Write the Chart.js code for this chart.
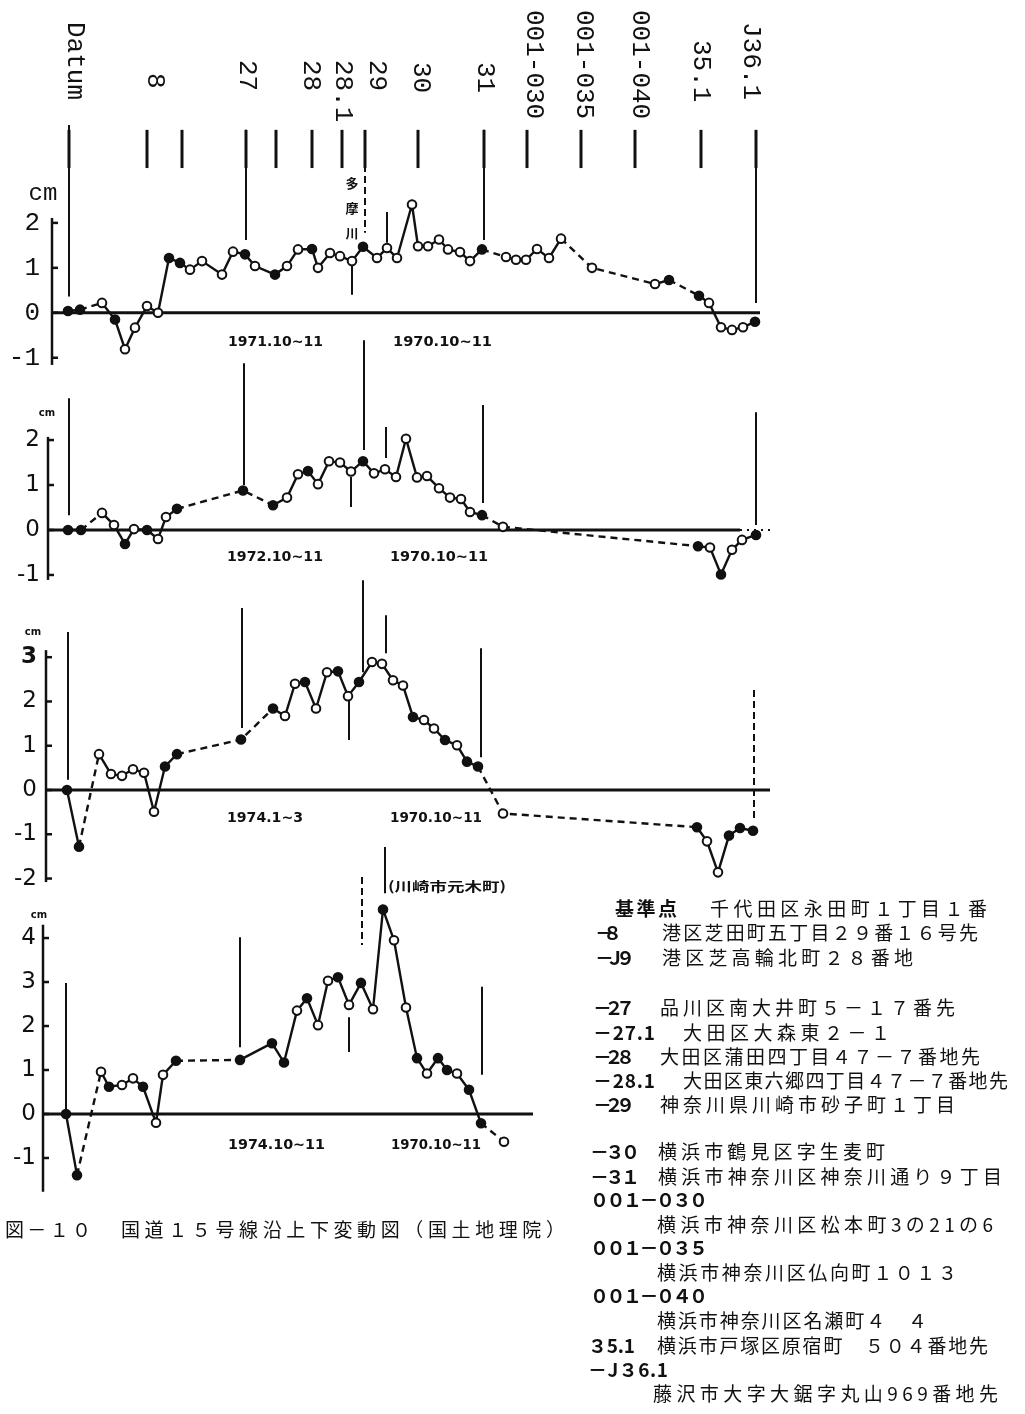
<!DOCTYPE html>
<html lang="ja">
<head>
<meta charset="utf-8">
<title>図－１０ 国道１５号線沿上下変動図</title>
<script src="https://cdn.jsdelivr.net/npm/chart.js@4.4.1/dist/chart.umd.min.js"></script>
<style>
  html, body { margin: 0; padding: 0; background: #fff; }
  #fig { position: relative; width: 1025px; height: 1414px; overflow: hidden; }
  #fig canvas { position: absolute; left: 0; top: 0; }
  .jp { position: absolute; white-space: nowrap; font-family: "Noto Sans CJK JP", sans-serif;
        font-size: 19px; line-height: 24px; height: 24px; color: #111; }
  .jp.code { font-weight: 700; }
</style>
</head>
<body>
<div id="fig">
  <canvas id="p0" width="1025" height="1414"></canvas>
  <canvas id="p1" width="1025" height="1414"></canvas>
  <canvas id="p2" width="1025" height="1414"></canvas>
  <canvas id="p3" width="1025" height="1414"></canvas>
</div>
<script>
// Benchmarks along route 15 (chainage from Datum, scaled units)
const stationNames = ['Datum', '8', 'J9', '27', '27.1', '28', '28.1', '29', '30', '31', '001-030', '001-035', '001-040', '35.1', 'J36.1'];
const stationPos = [0, 7.8, 11.3, 17.7, 20.7, 24.3, 27.3, 29.6, 34.9, 41.5, 45.8, 51.2, 56.6, 63.2, 68.7];
const headerLabels = ['Datum', '8', '27', '28', '28.1', '29', '30', '31', '001-030', '001-035', '001-040', '35.1', 'J36.1'];
const headerLabelPos = [0.6, 8.6, 17.8, 24.2, 27.4, 30.8, 35.2, 41.6, 46.5, 51.5, 57.1, 63.2, 68.2];

// Panel 1: 1971.10~11 vs 1970.10~11 (cm)
const pos1 = [-0.1, 1.1, 3.3, 4.6, 5.6, 6.6, 7.8, 8.9, 10.0, 11.1, 12.1, 13.3, 15.3, 16.4, 17.6, 18.6,
  20.6, 21.8, 22.9, 24.3, 24.9, 26.1, 27.1, 28.3, 29.4, 30.8, 31.8, 32.8, 34.3, 34.9, 35.9, 37.0,
  37.9, 39.1, 40.1, 41.3, 43.7, 44.7, 45.7, 46.8, 48.0, 49.2, 52.3, 58.6, 60.0, 63.0, 64.0, 65.2, 66.3, 67.4, 68.6];
const val1 = [0.04, 0.07, 0.22, -0.15, -0.81, -0.33, 0.15, 0.0, 1.22, 1.11, 0.96, 1.15, 0.85, 1.36, 1.30, 1.04,
  0.85, 1.04, 1.41, 1.42, 1.00, 1.33, 1.26, 1.15, 1.47, 1.22, 1.44, 1.22, 2.41, 1.48, 1.48, 1.63,
  1.41, 1.35, 1.15, 1.41, 1.24, 1.18, 1.18, 1.42, 1.22, 1.65, 1.00, 0.64, 0.73, 0.38, 0.22, -0.32, -0.38, -0.32, -0.20];
const kind1 = [1,1,0,1,0,0,0,0, 1,1,0,0,0,0,1,0, 1,0,0,1,0,0,0,0, 1,0,0,0,0,0,0,0, 0,0,0,1, 0,0,0,0,0,0,0,0,1,1,0,0,0,0,1];
const dash1 = [1,1,0,0,0,0,0,0, 0,0,0,0,0,0,0,0, 0,0,0,0,0,0,0,0, 0,0,0,0,0,0,0,0, 0,0,0,1, 0,0,0,0,0,1,1,0,1,0,0,0,0,0];

// Panel 2: 1972.10~11 vs 1970.10~11
const pos2 = [-0.1, 1.2, 3.3, 4.5, 5.6, 6.5, 7.8, 8.9, 9.7, 10.8, 17.4, 20.4, 21.8, 22.9, 23.9, 24.9, 26.0, 27.1, 28.2, 29.4,
  30.5, 31.6, 32.7, 33.7, 34.8, 35.8, 37.0, 38.1, 39.2, 40.1, 41.3, 43.4, 62.9, 64.1, 65.2, 66.3, 67.3, 68.7];
const val2 = [0, 0, 0.38, 0.11, -0.31, 0.02, 0, -0.2, 0.29, 0.47, 0.88, 0.55, 0.72, 1.24, 1.31, 1.02, 1.53, 1.5, 1.3, 1.53,
  1.26, 1.35, 1.18, 2.03, 1.17, 1.2, 0.93, 0.72, 0.69, 0.4, 0.33, 0.07, -0.36, -0.39, -0.99, -0.44, -0.22, -0.11];
const kind2 = [1,1,0,0,1,0,1,0,0,1, 1,1,0,0,1,0,0,0,0,1, 0,0,0,0,0,0,0,0,0,0, 1,0, 1,0,1,0,0,1];
const dash2 = [0,1,0,0,0,0,0,0,0,1, 1,0,0,0,0,0,0,0,0,0, 0,0,0,0,0,0,0,0,0,0, 1,1, 0,0,0,0,0];

// Panel 3: 1974.1~3 vs 1970.10~11
const pos3 = [-0.2, 1.0, 3.0, 4.2, 5.3, 6.4, 7.5, 8.5, 9.6, 10.8, 17.2, 20.4, 21.6, 22.6, 23.6, 24.7, 25.8, 26.9, 27.9, 29.0,
  30.3, 31.3, 32.4, 33.4, 34.4, 35.5, 36.5, 37.6, 38.8, 39.8, 40.9, 43.4, 62.8, 63.8, 64.9, 66.0, 67.1, 68.4];
const val3 = [0, -1.28, 0.81, 0.36, 0.32, 0.47, 0.39, -0.49, 0.53, 0.81, 1.14, 1.84, 1.67, 2.4, 2.44, 1.84, 2.66, 2.68, 2.12, 2.44,
  2.89, 2.85, 2.48, 2.36, 1.65, 1.58, 1.39, 1.13, 1.01, 0.64, 0.53, -0.53, -0.84, -1.16, -1.86, -1.03, -0.86, -0.92];
const kind3 = [1,1,0,0,0,0,0,0,1,1, 1,1,0,0,1,0,0,1,0,1, 0,0,0,0,1,0,0,1,0,1, 1,0, 1,0,0,1,1,1];
const dash3 = [0,1,0,0,0,0,0,0,0,1, 1,0,0,0,0,0,0,0,0,0, 0,0,0,0,0,0,0,0,0,0, 1,1, 0,0,0,0,0];

// Panel 4: 1974.10~11 vs 1970.10~11
const pos4 = [-0.3, 0.8, 3.2, 4.0, 5.3, 6.4, 7.4, 8.7, 9.4, 10.7, 17.1, 20.3, 21.5, 22.8, 23.8, 24.9, 25.9, 26.9, 28.0, 29.2,
  30.4, 31.4, 32.5, 33.7, 34.8, 35.8, 36.9, 37.8, 38.8, 40.0, 41.2, 43.5];
const val4 = [0, -1.39, 0.96, 0.62, 0.66, 0.81, 0.62, -0.2, 0.89, 1.21, 1.23, 1.61, 1.17, 2.35, 2.63, 2.02, 3.03, 3.11, 2.48, 2.98,
  2.38, 4.65, 3.95, 2.42, 1.27, 0.92, 1.27, 1.0, 0.92, 0.55, -0.21, -0.63];
const kind4 = [1,1,0,1,0,0,1,0,0,1, 1,1,1,0,1,0,0,1,0,1, 0,1,0,0,1,0,1,1,0,1, 1,0];
const dash4 = [0,1,0,0,0,0,0,0,0,1, 0,0,0,0,0,0,0,0,0,0, 0,0,0,0,0,0,0,0,0,0, 1];

const ticks1 = [2, 1, 0, -1];
const ticks2 = [2, 1, 0, -1];
const ticks3 = [3, 2, 1, 0, -1, -2];
const ticks4 = [4, 3, 2, 1, 0, -1];

// Epoch labels under each profile
const periods1 = ['1971.10~11', '1970.10~11'];
const periods2 = ['1972.10~11', '1970.10~11'];
const periods3 = ['1974.1~3', '1970.10~11'];
const periods4 = ['1974.10~11', '1970.10~11'];

const ink = '#111';

// benchmark marks: [chainage, top cm, bottom cm, dashed]
const headerMarks = stationPos.map(s => [s, 4.07, 3.22]);
const marks1 = headerMarks.concat([
  [0, 4.18, 0.36], [17.7, 4.07, 1.62], [29.6, 4.02, 1.78, 1], [41.5, 4.07, 1.62], [68.7, 3.96, 0.22],
  [31.8, 2.24, 1.56], [28.3, 1.18, 0.40]
]);
const marks2 = [[0, 2.93, 0.33], [17.5, 3.71, 1.0], [29.5, 4.22, 1.78], [31.7, 2.29, 1.6], [28.2, 1.18, 0.51], [41.4, 2.78, 0.6], [68.7, 2.62, 0.11]];
const marks3 = [[-0.1, 3.57, 0.23], [17.3, 4.11, 1.4], [29.4, 4.74, 2.66], [31.7, 3.95, 3.09], [28.0, 2.1, 1.13], [41.2, 3.2, 0.74], [68.5, 2.26, -0.72, 1]];
const marks4 = [[-0.3, 2.98, 0.02], [17.1, 4.02, 1.52], [29.3, 5.39, 3.84, 1], [31.6, 6.07, 5.02], [28.0, 2.2, 1.41], [41.3, 2.89, 0.89]];

// zero: pixel row of 0 cm, k: px per cm, axis: drawn axis extent, view: scale range
const panels = [
  { pos: pos1, val: val1, kind: kind1, dash: dash1, ticks: ticks1, periods: periods1, marks: marks1,
    zero: 312.8, k: 44.95, axis: [2.11, -1.16], view: [2.8, -1.7], left: 52, xMin: -1.7, zeroEnd: 69.1,
    pad: 12, font: '"Liberation Mono", monospace', fsize: 26, dateAt: [15.9, 32.4], dateW: [95, 99], dateDy: 30,
    cm: { x: 43, y: 194, font: '24px "Liberation Mono"' } },
  { pos: pos2, val: val2, kind: kind2, dash: dash2, ticks: ticks2, periods: periods2, marks: marks2,
    zero: 530, k: 44.97, axis: [2.07, -1.11], view: [2.6, -1.6], left: 48, xMin: -2.1, zeroEnd: 67.1, zeroDots: 70.1,
    pad: 8, font: '"DejaVu Sans", sans-serif', fsize: 23, dateAt: [15.8, 32.1], dateW: [96, 98], dateDy: 27,
    cm: { x: 47, y: 413, font: 'bold 10px "DejaVu Sans"' } },
  { pos: pos3, val: val3, kind: kind3, dash: dash3, ticks: ticks3, periods: periods3, marks: marks3,
    zero: 790, k: 44.27, axis: [3.16, -2.08], view: [3.6, -2.5], left: 46, xMin: -2.3, zeroEnd: 70.1,
    pad: 9, font: '"DejaVu Sans", sans-serif', fsize: 23, dateAt: [15.8, 32.1], dateW: [76, 92], dateDy: 28,
    cm: { x: 33, y: 632, font: 'bold 10px "DejaVu Sans"' } },
  { pos: pos4, val: val4, kind: kind4, dash: dash4, ticks: ticks4, periods: periods4, marks: marks4,
    zero: 1114, k: 43.99, axis: [4.3, -1.77], view: [5.0, -2.1], left: 43, xMin: -2.6, zeroEnd: 46.4,
    pad: 7, font: '"DejaVu Sans", sans-serif', fsize: 23, dateAt: [15.9, 32.2], dateW: [97, 90], dateDy: 31,
    cm: { x: 39, y: 915, font: 'bold 10px "DejaVu Sans"' } }
];

function seg(ctx, x1, y1, x2, y2) {
  ctx.beginPath(); ctx.moveTo(x1, y1); ctx.lineTo(x2, y2); ctx.stroke();
}

function fitText(ctx, text, x, y, width) {
  const w = ctx.measureText(text).width;
  ctx.save();
  ctx.translate(x, y);
  ctx.scale(width / w, 1);
  ctx.fillText(text, 0, 0);
  ctx.restore();
}

function decor(p, idx) {
  return {
    id: 'decor' + idx,
    beforeDatasetsDraw(chart) {
      const { ctx, chartArea: area, scales: { x, y } } = chart;
      ctx.save();
      ctx.strokeStyle = ink;
      // vertical axis
      ctx.lineWidth = 2.5;
      seg(ctx, area.left, y.getPixelForValue(p.axis[0]), area.left, y.getPixelForValue(p.axis[1]));
      const y0 = y.getPixelForValue(0);
      ctx.lineWidth = 3;
      seg(ctx, area.left, y0, x.getPixelForValue(p.zeroEnd), y0);
      if (p.zeroDots) {
        ctx.lineWidth = 2;
        ctx.setLineDash([2, 5]);
        seg(ctx, x.getPixelForValue(p.zeroEnd), y0, x.getPixelForValue(p.zeroDots), y0);
        ctx.setLineDash([]);
      }
      // small tick marks inside the axis
      ctx.lineWidth = 2.5;
      p.ticks.forEach(v => {
        const ty = y.getPixelForValue(v);
        seg(ctx, area.left, ty, area.left + 6, ty);
      });
      // benchmark lines
      p.marks.forEach(([at, a, b, dashed]) => {
        const mx = x.getPixelForValue(at);
        ctx.lineWidth = (idx === 0 && a === 4.07 && b === 3.22) ? 3 : 2;
        ctx.setLineDash(dashed ? [7, 4] : []);
        seg(ctx, mx, y.getPixelForValue(a), mx, y.getPixelForValue(b));
      });
      ctx.restore();
    },
    afterDraw(chart) {
      const { ctx, scales: { x, y } } = chart;
      ctx.save();
      ctx.fillStyle = ink;
      const y0 = y.getPixelForValue(0);
      // epoch labels
      ctx.font = 'bold 14px "DejaVu Sans"';
      ctx.textBaseline = 'middle';
      ctx.textAlign = 'left';
      p.periods.forEach((t, i) => fitText(ctx, t, x.getPixelForValue(p.dateAt[i]), y0 + p.dateDy, p.dateW[i]));
      // unit
      ctx.font = p.cm.font;
      ctx.textAlign = 'center';
      ctx.fillText('cm', p.cm.x, p.cm.y);

      if (idx === 0) {
        // rotated benchmark names
        ctx.font = '26px "Liberation Mono", monospace';
        ctx.textAlign = 'left';
        const tops = [22, 73, 60, 60, 60, 60, 62, 62, 10, 10, 10, 40, 22];
        headerLabels.forEach((t, i) => {
          ctx.save();
          ctx.translate(x.getPixelForValue(headerLabelPos[i]), tops[i]);
          ctx.rotate(Math.PI / 2);
          ctx.fillText(t, 0, 0);
          ctx.restore();
        });
        // river name
        ctx.font = 'bold 13px "Noto Sans CJK JP"';
        ctx.textAlign = 'center';
        const rx = x.getPixelForValue(28.3);
        ['多', '摩', '川'].forEach((c, i) => ctx.fillText(c, rx, 183 + i * 25));
      }
      if (idx === 3) {
        ctx.font = 'bold 13px "Noto Sans CJK JP"';
        ctx.textAlign = 'left';
        fitText(ctx, '(川崎市元木町)', x.getPixelForValue(31.9), 886, 118);
      }
      ctx.restore();
    }
  };
}

panels.forEach((p, idx) => {
  const top = p.zero - p.view[0] * p.k;
  const bottom = p.zero - p.view[1] * p.k;
  new Chart(document.getElementById('p' + idx), {
    type: 'line',
    data: {
      datasets: [{
        data: p.pos.map((d, j) => ({ x: d, y: p.val[j] })),
        borderColor: ink,
        borderWidth: 2.4,
        tension: 0,
        clip: false,
        pointRadius: 4.3,
        pointBorderWidth: 2,
        pointBorderColor: ink,
        pointBackgroundColor: p.kind.map(k => (k ? ink : '#fff')),
        segment: { borderDash: c => (p.dash[c.p0DataIndex] ? [7, 5] : undefined) }
      }]
    },
    options: {
      responsive: false,
      animation: false,
      events: [],
      layout: { padding: { left: 0, right: 1025 - 790, top: top, bottom: 1414 - bottom } },
      plugins: { legend: { display: false }, tooltip: { enabled: false } },
      scales: {
        x: { type: 'linear', display: false, min: p.xMin, max: 72.1 },
        y: {
          min: p.view[1],
          max: p.view[0],
          afterFit: s => { s.width = p.left; },
          afterBuildTicks: s => { s.ticks = p.ticks.map(v => ({ value: v })); },
          grid: { display: false, drawTicks: false },
          border: { display: false },
          ticks: {
            autoSkip: false,
            padding: p.pad,
            color: ink,
            callback: v => (v < 0 ? '-' + Math.abs(v) : String(v)),
            font: c => ({ family: p.font, size: p.fsize,
              weight: (idx === 2 && c.tick && c.tick.value === 3) ? 'bold' : 'normal' })
          }
        }
      }
    },
    plugins: [decor(p, idx)]
  });
});

// Benchmark address list and caption
const legendRows = [
  ['基準点', 615, 677, 908, 1], ['千代田区永田町１丁目１番', 710, 987, 908, 0],
  ['－８', 595, 622, 932, 1], ['港区芝田町五丁目２９番１６号先', 662, 978, 932, 0],
  ['－Ｊ９', 595, 635, 957, 1], ['港区芝高輪北町２８番地', 662, 913, 957, 0],
  ['－２７', 593, 635, 1007, 1], ['品川区南大井町５－１７番先', 660, 955, 1007, 0],
  ['－27.1', 593, 655, 1032, 1], ['大田区大森東２－１', 683, 890, 1032, 0],
  ['－２８', 593, 635, 1056, 1], ['大田区蒲田四丁目４７－７番地先', 660, 980, 1056, 0],
  ['－28.1', 593, 655, 1080, 1], ['大田区東六郷四丁目４７－７番地先', 683, 1008, 1080, 0],
  ['－２９', 593, 635, 1104, 1], ['神奈川県川崎市砂子町１丁目', 660, 955, 1104, 0],
  ['－３０', 590, 640, 1151, 1], ['横浜市鶴見区字生麦町', 658, 885, 1151, 0],
  ['－３１', 590, 640, 1176, 1], ['横浜市神奈川区神奈川通り９丁目', 658, 1002, 1176, 0],
  ['００１－０３０', 590, 708, 1199, 1], ['横浜市神奈川区松本町3の21の6', 657, 993, 1224, 0],
  ['００１－０３５', 590, 708, 1247, 1], ['横浜市神奈川区仏向町１０１３', 657, 957, 1272, 0],
  ['００１－０４０', 590, 708, 1295, 1], ['横浜市神奈川区名瀬町４　４', 657, 927, 1320, 0],
  ['３5.1', 588, 635, 1345, 1], ['横浜市戸塚区原宿町　５０４番地先', 657, 988, 1345, 0],
  ['－J３6.1', 588, 668, 1369, 1], ['藤沢市大字大鋸字丸山969番地先', 653, 998, 1393, 0],
  ['図－１０', 5, 91, 1229, 0], ['国道１５号線沿上下変動図（国土地理院）', 121, 565, 1229, 0]
];

const fig = document.getElementById('fig');
legendRows.forEach(([t, x0, x1, y, code]) => {
  const s = document.createElement('span');
  s.className = code ? 'jp code' : 'jp';
  s.textContent = t;
  s.style.left = x0 + 'px';
  s.style.top = (y - 12) + 'px';
  fig.appendChild(s);
  const n = [...t].length;
  const w = s.getBoundingClientRect().width;
  if (n > 1) s.style.letterSpacing = ((x1 - x0) - w) / (n - 1) + 'px';
});
</script>
</body>
</html>
